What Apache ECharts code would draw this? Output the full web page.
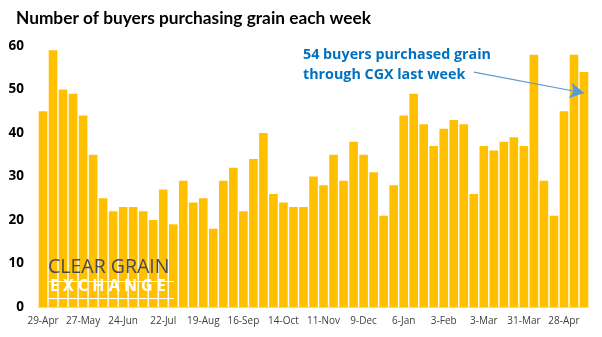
<!DOCTYPE html>
<html>
<head>
<meta charset="utf-8">
<script src="https://cdn.jsdelivr.net/npm/echarts@6/dist/echarts.min.js"></script>
<style>html,body{margin:0;padding:0;background:#fff}#c{width:602px;height:337px}</style>
</head>
<body>
<div id="c"></div>
<script>
var categories = ['29-Apr','6-May','13-May','20-May','27-May','3-Jun','10-Jun','17-Jun','24-Jun','1-Jul','8-Jul','15-Jul','22-Jul','29-Jul','5-Aug','12-Aug','19-Aug','26-Aug','2-Sep','9-Sep','16-Sep','23-Sep','30-Sep','7-Oct','14-Oct','21-Oct','28-Oct','4-Nov','11-Nov','18-Nov','25-Nov','2-Dec','9-Dec','16-Dec','23-Dec','30-Dec','6-Jan','13-Jan','20-Jan','27-Jan','3-Feb','10-Feb','17-Feb','24-Feb','3-Mar','10-Mar','17-Mar','24-Mar','31-Mar','7-Apr','14-Apr','21-Apr','28-Apr','5-May','12-May'];
var buyers = [45,59,50,49,44,35,25,22,23,23,22,20,27,19,29,24,25,18,29,32,22,34,40,26,24,23,23,30,28,35,29,38,35,31,21,28,44,49,42,37,41,43,42,26,37,36,38,39,37,58,29,21,45,58,54];
var yTicks = [0,10,20,30,40,50,60];
var titleText = 'Number of buyers purchasing grain each week';
var noteLines = ['54 buyers purchased grain', 'through CGX last week'];
var arrowFrom = [43, 54];
var arrowTo = [54, 49.2];

var chart = echarts.init(document.getElementById('c'));
chart.setOption({
  animation: false,
  backgroundColor: '#fff',
  title: {
    text: titleText, left: 11, top: 5,
    textStyle: {fontFamily: 'Lato', fontWeight: 'bold', fontSize: 17.3, color: '#000'}
  },
  grid: {left: 38, right: 13, top: 46, bottom: 30},
  xAxis: {
    type: 'category', data: categories,
    axisLine: {show: true, lineStyle: {color: '#d9d9d9'}},
    axisTick: {show: false},
    axisLabel: {interval: 3, color: '#404040', fontFamily: 'Open Sans', fontSize: 10, margin: 9}
  },
  yAxis: {
    type: 'value', min: yTicks[0], max: yTicks[yTicks.length - 1], interval: 10,
    splitLine: {show: false}, axisLine: {show: false}, axisTick: {show: false},
    axisLabel: {color: '#000', fontFamily: 'Open Sans', fontWeight: 'bold', fontSize: 13.5, margin: 14}
  },
  series: [{
    type: 'bar', data: buyers, barCategoryGap: '14%',
    itemStyle: {color: '#FFC000'},
    markLine: {
      silent: true, animation: false,
      label: {show: false},
      data: [[
        {coord: [arrowFrom[0], arrowFrom[1]], symbol: 'none', lineStyle: {color: '#5B9BD5', width: 1.2, type: 'solid'}},
        {coord: [arrowTo[0], arrowTo[1]], symbol: 'arrow', symbolSize: [12, 14], itemStyle: {color: '#1F78C8'}}
      ]]
    }
  }],
  graphic: [
    {type: 'text', z: 100, left: 303, top: 45, style: {text: noteLines.join('\n'), fill: '#0070C0', fontFamily: 'Open Sans', fontWeight: 'bold', fontSize: 14.3, lineHeight: 20}},
    {type: 'text', z: 100, left: 48, top: 257, style: {text: 'CLEAR GRAIN', fill: '#4A4A4F', fontFamily: 'Open Sans', fontSize: 19.5}},
    {type: 'text', z: 100, left: 50, top: 278, style: {text: 'E X C H A N G E', fill: '#ffffff', fontFamily: 'Open Sans', fontWeight: 'bold', fontSize: 16}},
    {type: 'rect', z: 100, shape: {x: 48, y: 281, width: 126, height: 1}, style: {fill: '#ffffff'}},
    {type: 'rect', z: 100, shape: {x: 48, y: 298, width: 126, height: 1}, style: {fill: '#ffffff'}}
  ]
});
</script>
</body>
</html>
